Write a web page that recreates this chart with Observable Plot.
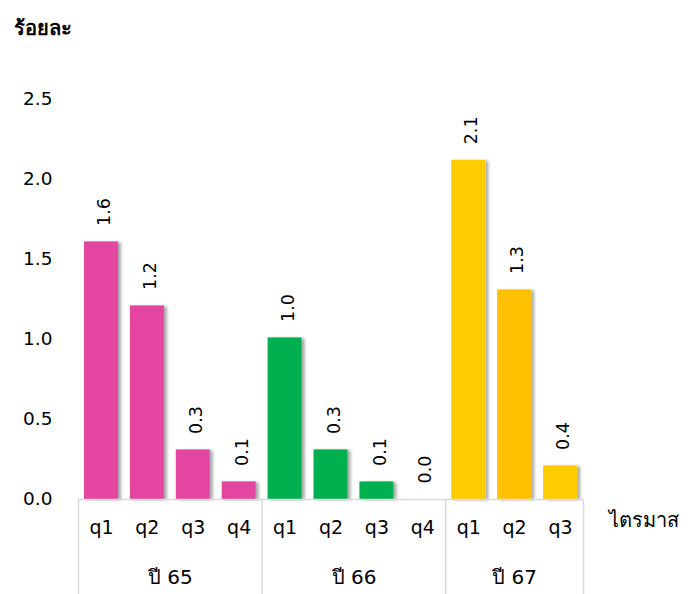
<!DOCTYPE html>
<html><head><meta charset="utf-8">
<script src="https://cdn.jsdelivr.net/npm/d3@7"></script>
<script src="https://cdn.jsdelivr.net/npm/@observablehq/plot@0.6"></script>
<style>body{margin:0;background:#fff} #chart{width:688px;height:594px}</style>
</head><body><div id="chart"></div>
<script>
const years = ["ปี 65", "ปี 66", "ปี 67"];
const quarters = ["q1","q2","q3","q4","q1","q2","q3","q4","q1","q2","q3"];
const yearOf = [0,0,0,0,1,1,1,1,2,2,2];
const values = [1.61, 1.21, 0.31, 0.11, 1.01, 0.31, 0.11, 0.0, 2.12, 1.31, 0.21];
const valueLabels = ["1.6","1.2","0.3","0.1","1.0","0.3","0.1","0.0","2.1","1.3","0.4"];
const barColors = ["#E444A0","#E444A0","#E444A0","#E444A0","#00B050","#00B050","#00B050","#00B050","#FFCC00","#FFC000","#FFCC00"];
const yTicks = [0, 0.5, 1.0, 1.5, 2.0, 2.5];
const yUnit = "ร้อยละ";
const xTitle = "ไตรมาส";

const FONT = "Tahoma, 'DejaVu Sans', 'Noto Sans', sans-serif";
const W = 688, H = 594, mT = 99, mB = 95, mL = 78, mR = 105;
const plotH = H - mT - mB;
const gridColor = "#D9D9D9";

const data = quarters.map((q, i) => ({i, q, value: values[i], label: valueLabels[i], color: barColors[i]}));
const groups = years.map((name, k) => {
  const idx = yearOf.map((g, i) => g === k ? i : -1).filter(i => i >= 0);
  return {name, start: idx[0], end: idx[idx.length - 1] + 1};
});
const bounds = [...new Set(groups.flatMap(g => [g.start, g.end]))];

const chart = Plot.plot({
  width: W, height: H,
  marginTop: mT, marginBottom: mB, marginLeft: mL, marginRight: mR,
  style: {fontFamily: FONT, fontSize: "18px", color: "#000", background: "#fff", overflow: "visible"},
  x: {domain: [0, quarters.length], axis: null},
  y: {domain: [0, 2.5], axis: null},
  marks: [
    Plot.axisY({ticks: yTicks, tickFormat: d3.format(".1f"), tickSize: 0, tickPadding: 26, label: null, fontSize: 18.5}),
    Plot.rectY(data, {x1: d => d.i + 0.13, x2: d => d.i + 0.87, y1: 0, y2: "value", fill: "color"}),
    Plot.ruleY([0], {stroke: gridColor, strokeWidth: 1.5}),
    Plot.ruleX(bounds, {x: d => d, stroke: gridColor, strokeWidth: 1.5, insetTop: plotH, insetBottom: -mB}),
    Plot.text(data, {x: d => d.i + 0.5, y: "value", text: "label", rotate: -90, textAnchor: "start", dx: 3, dy: -16, fontSize: 17.5, fill: "#000"}),
    Plot.text(data, {x: d => d.i + 0.5, y: 0, text: "q", dy: 28, fontSize: 19, fill: "#000"}),
    Plot.text(groups, {x: d => (d.start + d.end) / 2, y: 0, text: "name", dy: 78, fontSize: 20, fill: "#000"}),
    Plot.text([xTitle], {frameAnchor: "bottom-right", text: d => d, textAnchor: "start", dx: 25, dy: 27, fontSize: 20, fill: "#000"}),
    Plot.text([yUnit], {frameAnchor: "top-left", text: d => d, textAnchor: "start", dx: -65, dy: -79, fontSize: 20, fontWeight: "bold", fill: "#000"})
  ]
});

// drop shadow for bars
const svgNS = "http://www.w3.org/2000/svg";
const defs = document.createElementNS(svgNS, "defs");
defs.innerHTML = `<filter id="barShadow" x="-20%" y="-10%" width="150%" height="130%">
  <feDropShadow dx="3" dy="1" stdDeviation="1.6" flood-color="#000" flood-opacity="0.35"/></filter>`;
chart.insertBefore(defs, chart.firstChild);
const rg = chart.querySelector('g[aria-label="rect"]');
if (rg) rg.setAttribute("filter", "url(#barShadow)");

document.getElementById("chart").appendChild(chart);
</script>
</body></html>
